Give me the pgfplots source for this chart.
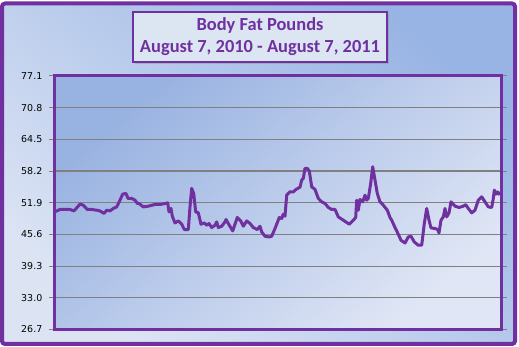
\documentclass[border=0pt]{standalone}
\usepackage{fontspec}
\setmainfont{Carlito}
\newfontfamily\tickfont{DejaVu Sans}
\usepackage{pgfplots}
\pgfplotsset{compat=1.18}
\usetikzlibrary{shadows}
\definecolor{purp}{HTML}{7030A0}
\definecolor{bgdark}{RGB}{152,180,228}
\definecolor{bglight}{RGB}{220,228,244}
\definecolor{padark}{RGB}{152,178,225}
\definecolor{palight}{RGB}{224,230,245}
\definecolor{titlefill}{RGB}{220,230,242}
\begin{document}
\begin{tikzpicture}
\useasboundingbox (0,0) rectangle (519bp,347bp);
\shade[top color=bgdark, bottom color=bglight, shading angle=-40] (2bp,3bp) rectangle (515bp,343.5bp);
\draw[purp, line width=4bp, rounded corners=3bp] (2bp,3bp) rectangle (515bp,343.5bp);
\begin{axis}[
  at={(54.5bp,17.5bp)}, anchor=south west,
  scale only axis, width=447bp, height=253.5bp,
  xmin=54.5, xmax=501.5, ymin=26.7, ymax=77.1,
  xtick=\empty,
  ytick={26.7,33.0,39.3,45.6,51.9,58.2,64.5,70.8,77.1},
  yticklabel style={font=\tickfont\fontsize{9.5}{10}\selectfont, inner sep=0pt, xshift=-7bp},
  /pgf/number format/assume math mode=true,
  /pgf/number format/.cd, fixed, fixed zerofill, precision=1, /pgfplots/.cd,
  ymajorgrids,
  major grid style={draw={rgb,255:red,128;green,128;blue,128}, line width=1.2bp},
  tick align=outside, major tick length=5bp,
  ytick style={draw={rgb,255:red,128;green,128;blue,128}, line width=1bp},
  axis line style={purp, line width=3bp},
  axis background/.style={shade, top color=padark, bottom color=palight, shading angle=40},
  clip=false,
]
\addplot[purp, line width=3bp, line join=round] coordinates {
(54.5,50.09) (60,50.56) (70,50.56) (74,50.28) (80,51.62) (83.3,51.42) (87.3,50.56) (91.7,50.56)
(96.7,50.42) (100,50.28) (104,49.77) (106.7,50.42) (110,50.28) (113.3,50.76) (116.7,51.08)
(120,52.42) (122.7,53.61) (126,53.75) (128,52.76) (131.7,52.76) (135,52.42) (137.3,51.76)
(139,51.76) (143.3,51.08) (148.3,51.22) (155,51.56) (160,51.56) (165.7,51.76) (167.7,51.88)
(169,50.09) (171,50.76) (172.3,49.23) (175,47.89) (178.3,48.29) (181.7,47.63) (184.3,46.58)
(188.3,46.58) (190,51.08) (191.7,54.75) (193.7,53.75) (195.7,50.09) (198.3,49.89) (201,47.63)
(204.3,47.89) (206.7,47.43) (209,47.77) (211.7,46.97) (215,47.43) (216.7,48.09) (218.3,46.97)
(221.7,47.23) (225,48.09) (226,48.57) (229.3,47.43) (232.7,46.30) (237.3,48.97) (240.7,48.29)
(243.3,47.23) (246.7,48.29) (250,47.77) (253.3,46.97) (257.3,46.58) (260,47.23) (261.7,46.10)
(265,45.24) (269.3,45.10) (271.7,45.24) (275,46.78) (279.3,48.97) (281.7,48.77) (283.3,49.63)
(285,49.23) (286.7,53.41) (290,54.07) (293.3,54.07) (296,54.55) (300,55.0) (301.7,56.40)
(303.3,56.74) (305,58.74) (307.3,58.74) (309.3,58.2) (311.7,55.07) (315,54.55) (318.3,52.76)
(321.7,52.08) (325,51.76) (328.3,50.96) (331.7,50.56) (335,50.56) (338.3,49.09) (343.3,48.43)
(349.3,47.63) (353.3,48.43) (355.7,48.97) (356.7,52.42) (358.3,50.42) (360,52.56) (362.7,52.08)
(365,53.41) (366.7,52.42) (368.3,52.76) (370.7,55.75) (372.7,59.06) (375,56.40) (377.3,53.75)
(380,52.08) (383.3,51.42) (387.3,50.42) (390,48.97) (391.7,48.43) (395,46.97) (398.3,45.64)
(401,44.44) (405,43.90) (408.3,45.10) (411,45.24) (414.3,44.10) (418.3,43.45) (421.7,43.45)
(424.3,47.77) (426.7,50.76) (429,48.43) (431,46.90) (435,46.78) (437.7,46.58) (439,45.90)
(441,48.43) (443.3,49.09) (445,50.76) (446.7,49.09) (449,49.89) (451,52.08) (455,51.22)
(459,50.96) (463.3,51.22) (465.7,51.52) (468.3,50.76) (471.7,49.89) (475,50.42) (478.3,52.42)
(481.7,53.08) (485,52.08) (488.3,51.08) (491.7,50.96) (493.3,52.76) (494.3,54.41) (496,53.61)
(497.3,54.07) (498.7,53.61) (500,54.07)
};
\end{axis}
\node[draw=purp, line width=2.2bp, fill=titlefill, minimum width=254bp, minimum height=50bp,
  inner sep=0pt, align=center, text=purp,
  font=\bfseries\fontsize{18.5}{22}\selectfont,
  drop shadow={shadow xshift=2bp, shadow yshift=-2bp, opacity=0.35}]
  at (260bp,310bp) {Body Fat Pounds\\August 7, 2010 - August 7, 2011};
\end{tikzpicture}
\end{document}
